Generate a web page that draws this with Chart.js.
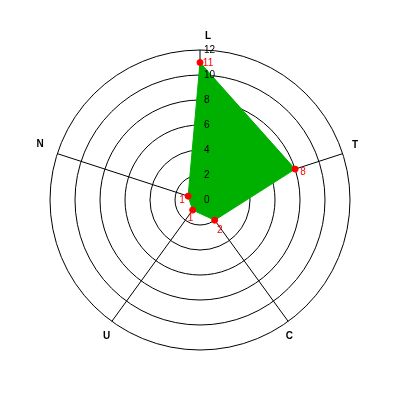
<!DOCTYPE html>
<html>
<head>
<meta charset="utf-8">
<script src="https://cdn.jsdelivr.net/npm/chart.js@4.4.1/dist/chart.umd.min.js"></script>
<style>
  html, body { margin: 0; padding: 0; background: #fff; }
  #wrap { width: 400px; height: 400px; }
</style>
</head>
<body>
<div id="wrap"><canvas id="radar" width="400" height="400"></canvas></div>
<script>
// ============ DATA ============
const axes = ['L', 'T', 'C', 'U', 'N'];
const values = [11, 8, 2, 1, 1];
const tickMin = 0;
const tickMax = 12;
const tickStep = 2;

// ============ PLUGINS ============
// tick labels on the vertical axis, drawn over the fill (and including 0)
const tickText = {
  id: 'tickText',
  afterDatasetsDraw(chart) {
    const s = chart.scales.r;
    const ctx = chart.ctx;
    ctx.save();
    ctx.font = '10px "Liberation Sans", Arial, sans-serif';
    ctx.fillStyle = '#000';
    ctx.textAlign = 'left';
    ctx.textBaseline = 'middle';
    s.ticks.forEach(t => {
      const d = s.getDistanceFromCenterForValue(t.value);
      ctx.fillText(t.label, s.xCenter + 4, s.yCenter - d);
    });
    ctx.restore();
  }
};

// axis names just outside the outer ring
const axisText = {
  id: 'axisText',
  afterDraw(chart, args, opts) {
    const s = chart.scales.r;
    const ctx = chart.ctx;
    ctx.save();
    ctx.font = 'bold 10px "Liberation Sans", Arial, sans-serif';
    ctx.fillStyle = '#000';
    ctx.textAlign = 'center';
    ctx.textBaseline = 'middle';
    axes.forEach((name, i) => {
      const p = s.getPointPosition(i, s.drawingArea + opts.gap);
      const n = opts.nudge[i] || [0, 0];
      ctx.fillText(name, p.x + n[0], p.y + n[1]);
    });
    ctx.restore();
  }
};

// red value labels next to each point
const valueText = {
  id: 'valueText',
  afterDatasetsDraw(chart, args, opts) {
    const ctx = chart.ctx;
    const meta = chart.getDatasetMeta(0);
    ctx.save();
    ctx.font = '10px "Liberation Sans", Arial, sans-serif';
    ctx.fillStyle = '#ff0000';
    ctx.textAlign = 'center';
    ctx.textBaseline = 'middle';
    meta.data.forEach((pt, i) => {
      const o = opts.offsets[i] || [6, 4];
      ctx.fillText(String(values[i]), pt.x + o[0], pt.y + o[1]);
    });
    ctx.restore();
  }
};

// ============ CHART ============
new Chart(document.getElementById('radar'), {
  type: 'radar',
  data: {
    labels: axes,
    datasets: [{
      data: values,
      fill: true,
      backgroundColor: 'rgb(0,176,0)',
      borderColor: 'rgb(0,176,0)',
      borderWidth: 1,
      pointRadius: 3,
      pointBackgroundColor: '#ff0000',
      pointBorderColor: '#ff0000',
      pointBorderWidth: 1
    }]
  },
  options: {
    responsive: false,
    devicePixelRatio: 1,
    animation: false,
    layout: { padding: 50 },
    plugins: {
      legend: { display: false },
      tooltip: { enabled: false },
      valueText: { offsets: [[8, 1], [8, 3], [5, 10], [-2, 8], [-6, 4]] },
      axisText: { gap: 14, nudge: [[8, 0], [-1, -4], [-7, 4], [3, 4], [-4, -5]] }
    },
    scales: {
      r: {
        min: tickMin,
        max: tickMax,
        ticks: { stepSize: tickStep, display: false },
        grid: { circular: true, color: '#000', lineWidth: 1 },
        angleLines: { color: '#000', lineWidth: 1 },
        pointLabels: { display: false }
      }
    }
  },
  plugins: [tickText, axisText, valueText]
});
</script>
</body>
</html>
